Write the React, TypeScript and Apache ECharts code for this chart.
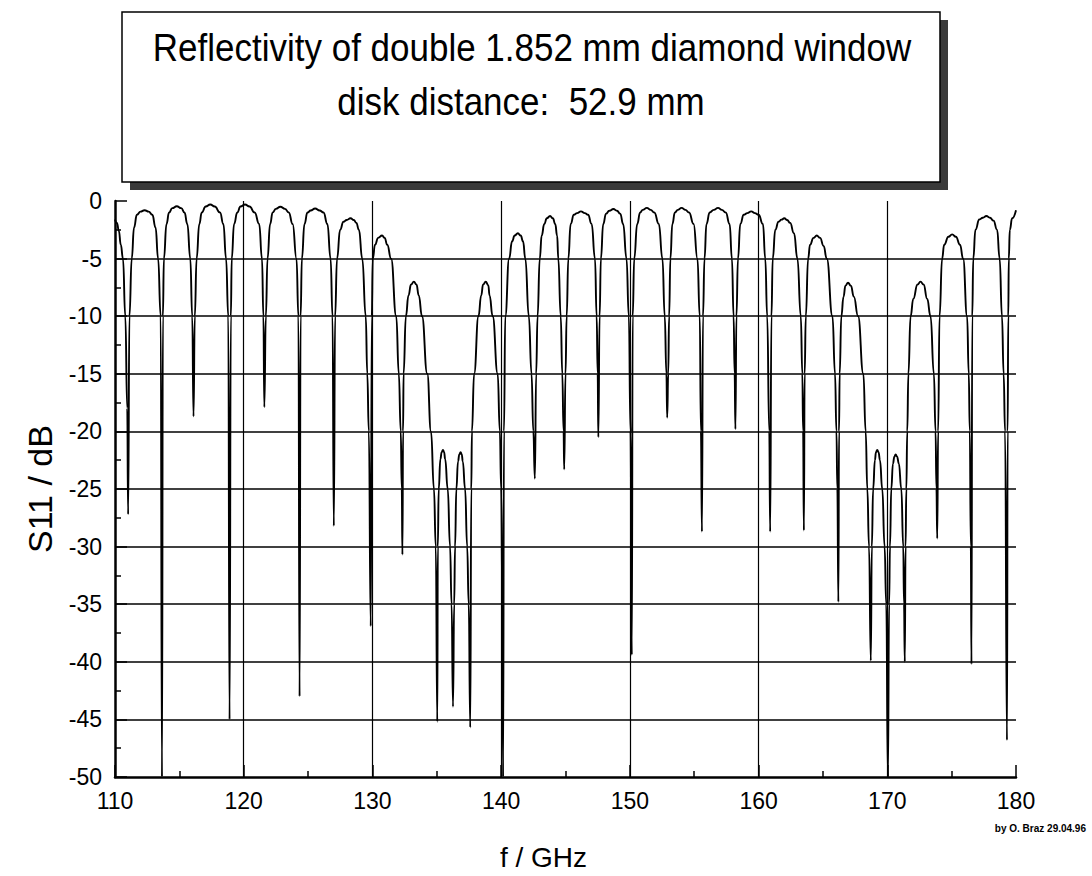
import React, { useEffect, useRef } from "react";
import * as echarts from "echarts";

// Frequency axis ticks (GHz) and S11 axis ticks (dB)
const freqTicks = [110, 120, 130, 140, 150, 160, 170, 180];
const dbTicks = [0, -5, -10, -15, -20, -25, -30, -35, -40, -45, -50];

// Resonance minima [f GHz, S11 dB]
const dips: [number, number][] = [
  [111.02, -27.2], [113.65, -50], [116.1, -18.7], [118.9, -45], [121.6, -17.9],
  [124.34, -43], [127.0, -28.2], [129.87, -36.9], [132.33, -30.7], [135.04, -45.2],
  [136.26, -43.9], [137.6, -45.7], [140.15, -50], [142.62, -24.1], [144.9, -23.3],
  [147.55, -20.5], [150.15, -39.4], [152.9, -18.8], [155.6, -28.7], [158.2, -19.8],
  [160.9, -28.7], [163.52, -28.6], [166.2, -34.8], [168.72, -39.9], [170.05, -50],
  [171.36, -40], [173.88, -29.3], [176.54, -40.2], [179.3, -46.8],
];

// Maxima of the arches [f GHz, S11 dB]
const peaks: [number, number][] = [
  [110.0, -1.6], [112.3, -0.8], [114.8, -0.45], [117.4, -0.3], [120.1, -0.3],
  [122.85, -0.5], [125.55, -0.65], [128.3, -1.5], [130.75, -3.0], [133.22, -7.0],
  [135.48, -21.6], [136.85, -21.8], [138.8, -7.0], [141.3, -2.8], [143.8, -1.3],
  [146.2, -0.9], [148.72, -0.7], [151.32, -0.6], [154.02, -0.6], [156.85, -0.6],
  [159.43, -0.9], [162.0, -1.5], [164.52, -3.0], [166.95, -7.1], [169.22, -21.6],
  [170.65, -22.0], [172.58, -7.0], [175.04, -2.9], [177.7, -1.3], [180.0, -0.8],
];

// Points on the rounded crowns, either side of each maximum [f GHz, S11 dB]
const crowns: [number, number][] = [
  [111.98, -0.92], [112.62, -0.92], [114.45, -0.62], [115.15, -0.62],
  [117.05, -0.48], [117.75, -0.48], [119.75, -0.48], [120.45, -0.48],
  [122.5, -0.68], [123.2, -0.68], [125.2, -0.83], [125.9, -0.83],
  [128.0, -1.65], [128.55, -1.65], [130.45, -3.2], [130.95, -3.2],
  [133.0, -7.25], [133.42, -7.25], [135.38, -21.8], [135.57, -21.8],
  [136.75, -22.0], [136.94, -22.0], [138.6, -7.25], [139.0, -7.3],
  [141.05, -3.0], [141.52, -3.0], [143.55, -1.5], [144.02, -1.5],
  [145.9, -1.05], [146.5, -1.05], [148.4, -0.85], [149.0, -0.85],
  [151.0, -0.77], [151.62, -0.77], [153.72, -0.77], [154.32, -0.77],
  [156.52, -0.77], [157.15, -0.77], [159.12, -1.05], [159.72, -1.05],
  [161.78, -1.62], [162.22, -1.65], [164.27, -3.2], [164.78, -3.2],
  [166.75, -7.35], [167.17, -7.35], [169.12, -21.8], [169.32, -21.8],
  [170.55, -22.2], [170.76, -22.2], [172.35, -7.25], [172.82, -7.25],
  [174.75, -3.1], [175.33, -3.1], [177.42, -1.45], [177.98, -1.45],
];

// Flank points read along the arch sides [f GHz, S11 dB]
const flanks: [number, number][] = [
  [110.15, -1.9], [110.3, -2.6], [110.45, -3.8], [110.62, -5], [110.8, -10], [110.95, -18],
  [111.12, -10], [111.3, -5], [111.48, -2.3], [111.7, -1.2], [112.9, -1.2], [113.15, -2.3], [113.35, -5], [113.55, -10],
  [113.72, -10], [113.8, -5], [114.0, -2], [114.2, -1], [115.4, -1], [115.62, -2], [115.85, -5], [116.0, -10],
  [116.2, -10], [116.34, -5], [116.55, -2], [116.74, -1], [118.16, -1], [118.42, -2], [118.63, -5], [118.8, -10],
  [119.0, -10], [119.07, -5], [119.25, -2], [119.5, -1], [120.85, -1], [121.2, -2], [121.42, -5], [121.53, -10],
  [121.72, -10], [121.85, -5], [122.05, -2], [122.25, -1], [123.5, -1], [123.8, -2], [124.1, -5], [124.25, -10],
  [124.42, -10], [124.52, -5], [124.72, -2], [124.95, -1], [126.2, -1], [126.5, -2], [126.75, -5], [126.9, -10],
  [127.1, -10], [127.25, -5], [127.49, -2.5], [127.75, -1.8], [128.75, -1.9], [128.95, -2.5], [129.21, -5], [129.48, -10], [129.6, -15], [129.72, -20],
  [129.95, -10], [130.03, -5], [130.2, -3.8], [131.15, -3.8], [131.45, -5], [131.85, -10], [132.05, -15], [132.2, -20], [132.28, -25],
  [132.38, -20], [132.42, -15], [132.6, -10], [132.8, -8.2], [133.6, -8.2], [133.85, -10], [134.26, -15], [134.55, -20], [134.78, -25], [134.92, -30],
  [135.08, -30], [135.15, -25], [135.28, -22.4], [135.65, -22.4], [135.85, -25], [136.03, -30], [136.15, -35],
  [136.35, -35], [136.42, -30], [136.52, -25], [136.65, -22.6], [137.02, -22.6], [137.2, -25], [137.36, -30], [137.48, -35],
  [137.68, -25], [137.73, -20], [137.9, -15], [138.24, -10], [138.45, -8.2], [139.1, -8.2], [139.34, -10], [139.73, -15], [139.9, -20], [140.0, -25], [140.1, -35],
  [140.22, -20], [140.32, -10], [140.62, -5], [140.85, -3.5], [141.7, -3.5], [141.88, -5], [142.15, -10], [142.36, -15], [142.5, -20],
  [142.72, -15], [142.83, -10], [143.0, -5], [143.15, -3], [143.35, -2.0], [144.2, -2.0], [144.35, -3], [144.44, -5], [144.63, -10], [144.75, -15], [144.85, -20],
  [145.0, -15], [145.09, -10], [145.22, -5], [145.4, -2], [145.65, -1.2], [146.75, -1.2], [147.03, -2], [147.29, -5], [147.42, -10], [147.5, -15],
  [147.65, -10], [147.75, -5], [147.93, -2], [148.15, -1.1], [149.25, -1.1], [149.48, -2], [149.74, -5], [149.92, -10], [150.05, -20],
  [150.22, -10], [150.34, -5], [150.57, -2], [150.8, -1.0], [151.9, -1.0], [152.25, -2], [152.53, -5], [152.71, -10], [152.84, -15],
  [152.98, -15], [153.05, -10], [153.15, -5], [153.3, -2], [153.5, -1.0], [154.6, -1.0], [154.95, -2], [155.25, -5], [155.43, -10], [155.52, -20],
  [155.68, -10], [155.8, -5], [155.95, -2], [156.2, -1.0], [157.45, -1.0], [157.75, -2], [157.93, -5], [158.06, -10], [158.14, -15],
  [158.28, -10], [158.4, -5], [158.58, -2], [158.85, -1.2], [160.0, -1.2], [160.34, -2], [160.52, -5], [160.67, -10], [160.83, -20],
  [161.0, -10], [161.1, -5], [161.3, -2.5], [161.55, -1.8], [162.45, -1.9], [162.75, -2.8], [163.02, -5], [163.28, -10], [163.4, -15], [163.46, -20],
  [163.58, -15], [163.67, -10], [163.85, -5], [164.0, -3.8], [165.05, -3.9], [165.3, -5], [165.74, -10], [165.94, -15], [166.05, -20], [166.12, -25],
  [166.25, -20], [166.3, -15], [166.43, -10], [166.6, -8.3], [167.4, -8.3], [167.73, -10], [168.14, -15], [168.32, -20], [168.45, -25], [168.58, -30],
  [168.8, -30], [168.9, -25], [169.04, -22.5], [169.43, -22.5], [169.61, -25], [169.79, -30], [169.92, -35],
  [170.14, -35], [170.21, -30], [170.31, -25], [170.44, -22.8], [170.9, -22.8], [171.09, -25], [171.24, -30], [171.3, -35],
  [171.42, -30], [171.48, -25], [171.55, -20], [171.64, -15], [171.81, -10], [172.02, -8.5], [173.1, -8.5], [173.36, -10], [173.62, -15], [173.75, -20], [173.82, -25],
  [173.95, -20], [174.06, -10], [174.26, -5], [174.42, -3.8], [175.65, -3.8], [175.89, -5], [176.2, -10], [176.33, -15], [176.41, -20], [176.49, -30],
  [176.6, -10], [176.68, -5], [176.85, -2.5], [177.15, -1.6], [178.25, -1.7], [178.53, -2.5], [178.73, -5], [178.91, -10], [179.04, -15], [179.15, -20],
  [179.35, -20], [179.4, -10], [179.44, -5], [179.52, -2.5], [179.7, -1.5],
];

const titleLine1 = "Reflectivity of double 1.852 mm diamond window";
const titleLine2 = "disk distance:  52.9 mm";
const xName = "f / GHz";
const yName = "S11 / dB";
const credit = "by O. Braz 29.04.96";

const FONT = "'Liberation Sans', Arial, Helvetica, sans-serif";

export default function App() {
  const ref = useRef<HTMLDivElement>(null);
  useEffect(() => {
    if (!ref.current) return;
    const chart = echarts.init(ref.current, null, { renderer: "svg" });
    const curve = [...dips, ...peaks, ...crowns, ...flanks].sort((a, b) => a[0] - b[0]);
    chart.setOption({
      animation: false,
      backgroundColor: "#ffffff",
      textStyle: { fontFamily: FONT },
      grid: { left: 115, right: 76, top: 201, bottom: 99, containLabel: false },
      xAxis: {
        type: "value",
        min: freqTicks[0],
        max: freqTicks[freqTicks.length - 1],
        interval: 10,
        name: xName,
        nameLocation: "middle",
        nameGap: 66,
        nameTextStyle: { fontSize: 28, color: "#000", fontFamily: FONT, padding: [0, 44, 0, 0] },
        axisLine: { show: true, onZero: false, lineStyle: { color: "#000", width: 2.5 } },
        axisTick: { show: true, inside: true, length: 12, lineStyle: { color: "#000", width: 1.5 } },
        minorTick: { show: true, splitNumber: 2, length: 6, lineStyle: { color: "#000", width: 1.5 } },
        axisLabel: { color: "#000", fontSize: 23, margin: 12, fontFamily: FONT },
        splitLine: { show: true, showMinLine: false, showMaxLine: false, lineStyle: { color: "#000", width: 1.2 } },
      },
      yAxis: {
        type: "value",
        min: dbTicks[dbTicks.length - 1],
        max: dbTicks[0],
        interval: 5,
        name: yName,
        nameLocation: "middle",
        nameRotate: 90,
        nameGap: 58,
        nameTextStyle: { fontSize: 34, color: "#000", fontFamily: FONT },
        axisLine: { show: true, onZero: false, lineStyle: { color: "#000", width: 2.5 } },
        axisTick: { show: true, inside: true, length: 12, lineStyle: { color: "#000", width: 1.5 } },
        minorTick: { show: true, splitNumber: 2, length: 6, lineStyle: { color: "#000", width: 1.5 } },
        axisLabel: { color: "#000", fontSize: 23, margin: 13, fontFamily: FONT },
        splitLine: { show: true, showMinLine: false, showMaxLine: false, lineStyle: { color: "#000", width: 1.5 } },
      },
      series: [
        {
          type: "line",
          data: curve,
          showSymbol: false,
          smooth: 0.5,
          smoothMonotone: "x",
          clip: true,
          z: 5,
          lineStyle: { color: "#000", width: 1.9 },
        },
      ],
      graphic: [
        { type: "rect", shape: { x: 130, y: 20, width: 818, height: 170 }, style: { fill: "#3a3a3a" } },
        { type: "rect", shape: { x: 122, y: 12, width: 818, height: 170 }, style: { fill: "#fff", stroke: "#000", lineWidth: 1.5 } },
        {
          type: "text", x: 532, y: 47, scaleY: 1.12,
          style: { text: titleLine1, fontSize: 35, fontFamily: FONT, fill: "#000", textAlign: "center", textVerticalAlign: "middle" },
        },
        {
          type: "text", x: 521, y: 101, scaleY: 1.12,
          style: { text: titleLine2, fontSize: 35, fontFamily: FONT, fill: "#000", textAlign: "center", textVerticalAlign: "middle" },
        },
        {
          type: "text", x: 1086, y: 828,
          style: { text: credit, fontSize: 10, fontWeight: "bold", fontFamily: FONT, fill: "#000", textAlign: "right", textVerticalAlign: "middle" },
        },
      ],
    });
    return () => chart.dispose();
  }, []);
  return (
    <div
      ref={ref}
      style={{ position: "absolute", left: 0, top: 0, width: 1092, height: 876, background: "#fff" }}
    />
  );
}
